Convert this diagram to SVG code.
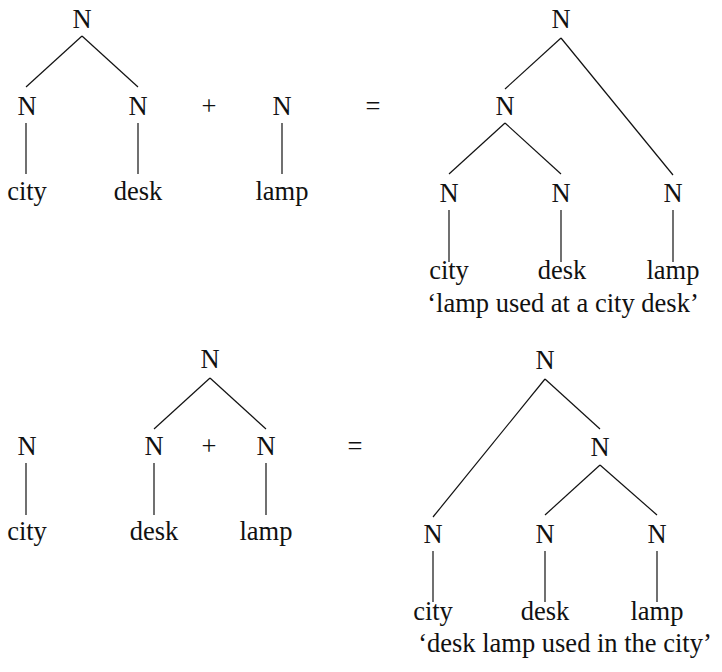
<svg xmlns="http://www.w3.org/2000/svg" width="722" height="672" viewBox="0 0 722 672">
<style>
text{font-size:26.5px;fill:#111;text-anchor:middle}
.c line{stroke:#111;stroke-width:1.2;fill:none}
</style>
<rect width="722" height="672" fill="#fff"/>
<g class="c" id="connectors">
<line x1="82" y1="36" x2="26" y2="87"/>
<line x1="82" y1="36" x2="138" y2="87"/>
<line x1="26" y1="123" x2="26" y2="174"/>
<line x1="138" y1="123" x2="138" y2="174"/>
<line x1="282" y1="123" x2="282" y2="174"/>
<line x1="561" y1="38" x2="505" y2="89"/>
<line x1="561" y1="38" x2="673" y2="175"/>
<line x1="505" y1="123" x2="449" y2="174"/>
<line x1="505" y1="123" x2="561" y2="174"/>
<line x1="449" y1="210" x2="449" y2="262"/>
<line x1="561" y1="210" x2="561" y2="262"/>
<line x1="673" y1="210" x2="673" y2="262"/>
<line x1="210" y1="378" x2="154" y2="429"/>
<line x1="210" y1="378" x2="266" y2="429"/>
<line x1="26" y1="463" x2="26" y2="515"/>
<line x1="154" y1="463" x2="154" y2="515"/>
<line x1="266" y1="463" x2="266" y2="515"/>
<line x1="545" y1="379" x2="433" y2="517"/>
<line x1="545" y1="379" x2="600" y2="429"/>
<line x1="600" y1="465" x2="545" y2="515"/>
<line x1="600" y1="465" x2="657" y2="515"/>
<line x1="433" y1="551" x2="433" y2="602"/>
<line x1="545" y1="551" x2="545" y2="602"/>
<line x1="657" y1="551" x2="657" y2="602"/>
</g>
<g font-family="'Liberation Serif', 'DejaVu Serif', serif">
<g id="t1-root"><text x="82" y="28">N</text></g>
<g id="t1-n1"><text x="27" y="115">N</text></g>
<g id="t1-n2"><text x="138" y="115">N</text></g>
<g id="t1-city"><text x="27" y="200">city</text></g>
<g id="t1-desk"><text x="138" y="200">desk</text></g>
<g id="t1-plus"><text x="209" y="115">+</text></g>
<g id="t1-n3"><text x="282" y="115">N</text></g>
<g id="t1-lamp"><text x="282" y="200">lamp</text></g>
<g id="t1-eq"><text x="373" y="115">=</text></g>
<g id="t2-root"><text x="561" y="28">N</text></g>
<g id="t2-mid"><text x="505" y="115">N</text></g>
<g id="t2-n1"><text x="449" y="202">N</text></g>
<g id="t2-n2"><text x="561" y="202">N</text></g>
<g id="t2-n3"><text x="673" y="202">N</text></g>
<g id="t2-city"><text x="449" y="279">city</text></g>
<g id="t2-desk"><text x="562" y="279">desk</text></g>
<g id="t2-lamp"><text x="673" y="279">lamp</text></g>
<g id="t2-gloss"><text x="563" y="312">‘lamp used at a city desk’</text></g>
<g id="t3-n1"><text x="27" y="455">N</text></g>
<g id="t3-city"><text x="27" y="540">city</text></g>
<g id="t3-root"><text x="210" y="368">N</text></g>
<g id="t3-n2"><text x="154" y="455">N</text></g>
<g id="t3-plus"><text x="209" y="455">+</text></g>
<g id="t3-n3"><text x="266" y="455">N</text></g>
<g id="t3-desk"><text x="154" y="540">desk</text></g>
<g id="t3-lamp"><text x="266" y="540">lamp</text></g>
<g id="t3-eq"><text x="355" y="455">=</text></g>
<g id="t4-root"><text x="545" y="369">N</text></g>
<g id="t4-mid"><text x="600" y="456">N</text></g>
<g id="t4-n1"><text x="433" y="543">N</text></g>
<g id="t4-n2"><text x="545" y="543">N</text></g>
<g id="t4-n3"><text x="657" y="543">N</text></g>
<g id="t4-city"><text x="433" y="620">city</text></g>
<g id="t4-desk"><text x="545" y="620">desk</text></g>
<g id="t4-lamp"><text x="657" y="620">lamp</text></g>
<g id="t4-gloss"><text x="565" y="652">‘desk lamp used in the city’</text></g>
</g>
</svg>
